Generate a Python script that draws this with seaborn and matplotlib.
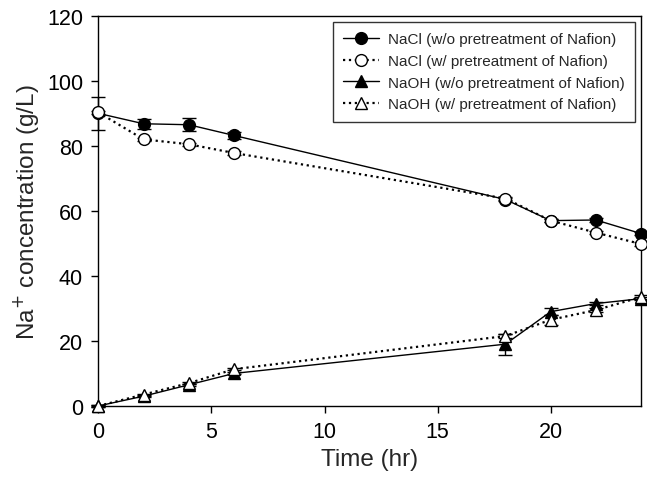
import matplotlib
matplotlib.use("Agg")
import matplotlib.pyplot as plt
import seaborn as sns
import numpy as np
import pandas as pd

# sampling times (hr)
time = [0, 2, 4, 6, 18, 20, 22, 24]

# Na+ concentration (g/L)
nacl_wo = [90.0, 86.8, 86.5, 83.2, 63.5, 57.0, 57.2, 53.0]
nacl_w = [90.3, 82.0, 80.5, 77.8, 63.8, 57.0, 53.3, 49.8]
naoh_wo = [0.0, 3.0, 6.5, 10.0, 19.0, 29.0, 31.5, 33.0]
naoh_w = [0.0, 3.5, 7.0, 11.3, 21.5, 26.5, 29.5, 33.5]

# error bars (g/L)
nacl_wo_err = [5.0, 1.5, 2.0, 1.0, 0.5, 0.5, 0.5, 0.5]
nacl_w_err = [0.5, 0.5, 0.5, 0.5, 0.5, 0.5, 0.5, 0.5]
naoh_wo_err = [0.3, 0.3, 0.3, 0.3, 3.2, 1.0, 0.5, 0.5]
naoh_w_err = [0.3, 0.3, 0.3, 0.3, 0.5, 1.5, 0.5, 0.5]

labels = ["NaCl (w/o pretreatment of Nafion)",
          "NaCl (w/ pretreatment of Nafion)",
          "NaOH (w/o pretreatment of Nafion)",
          "NaOH (w/ pretreatment of Nafion)"]

sns.set_style("ticks")
plt.rcParams['font.family'] = ['Liberation Sans', 'DejaVu Sans']

fig, ax = plt.subplots(figsize=(6.47, 4.81), dpi=100)

series = [
    (nacl_wo, nacl_wo_err, "o", "black", "-"),
    (nacl_w, nacl_w_err, "o", "white", ":"),
    (naoh_wo, naoh_wo_err, "^", "black", "-"),
    (naoh_w, naoh_w_err, "^", "white", ":"),
]

for (vals, errs, mk, fc, ls), lab in zip(series, labels):
    df = pd.DataFrame({"t": time, "c": vals})
    eb = ax.errorbar(time, vals, yerr=errs, fmt="none", ecolor="black",
                     elinewidth=1, capsize=5, capthick=1, zorder=2)
    for art in eb.lines[1] + eb.lines[2]:
        art.set_clip_on(False)
    sns.lineplot(data=df, x="t", y="c", ax=ax, color="black",
                 linestyle=ls, linewidth=1.6 if ls == ":" else 1,
                 marker=mk, markersize=8.5, markerfacecolor=fc,
                 markeredgecolor="black", markeredgewidth=1,
                 label=lab, zorder=3, clip_on=False)

ax.set_xlim(0, 24)
ax.set_ylim(0, 120)
ax.set_xticks([0, 5, 10, 15, 20])
ax.set_yticks([0, 20, 40, 60, 80, 100, 120])
ax.tick_params(direction="out", length=5, width=1, labelsize=15.5, colors="black", pad=6)
for s in ax.spines.values():
    s.set_linewidth(1)
    s.set_color("black")
    s.set_zorder(1)

ax.set_xlabel("Time (hr)", fontsize=17.5, labelpad=4)
ax.set_ylabel("Na$^{+}$ concentration (g/L)", fontsize=17.5, labelpad=4)

leg = ax.legend(loc="upper right", fontsize=11, frameon=True, fancybox=False,
                edgecolor="black", handlelength=2.3, handletextpad=0.6,
                labelspacing=0.5, borderpad=0.7, borderaxespad=0,
                bbox_to_anchor=(0.989, 0.985))
leg.get_frame().set_linewidth(1)
leg.set_zorder(5)

plt.subplots_adjust(left=0.152, right=0.991, top=0.965, bottom=0.154)
fig.savefig("out.png", dpi=100)
